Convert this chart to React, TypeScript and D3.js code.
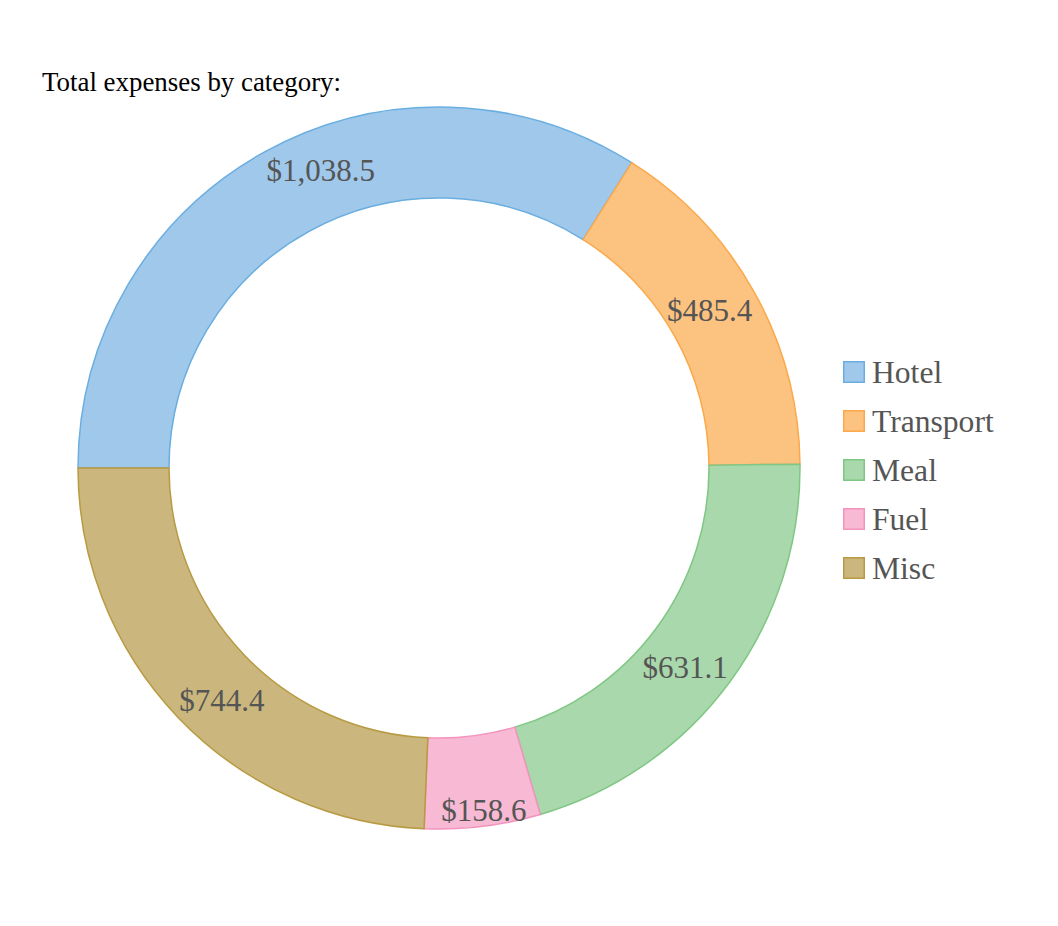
import React from "react";
import * as d3 from "d3";

const categories = ["Hotel", "Transport", "Meal", "Fuel", "Misc"];
const values = [1038.5, 485.4, 631.1, 158.6, 744.4];
const strokeColors = ["#6aaee0", "#fba94a", "#80c785", "#f394bd", "#b89a42"];
const fillColors = ["#a0c8eb", "#fcc27f", "#a8d8ab", "#f7b9d3", "#cbb77d"];
const title = "Total expenses by category:";

// label placement tweaks (style only): angle shift in degrees, radius
const labelAngleShift = [7.2, -1, 2.5, -0.5, -3.1];
const labelRadius = [320, 313, 317, 345, 318];

export default function App() {
  const W = 1058;
  const H = 926;
  const cx = 439;
  const cy = 468;
  const outerR = 361;
  const innerR = 270;

  const pie = d3
    .pie<number>()
    .sort(null)
    .startAngle(-Math.PI / 2)
    .endAngle((3 * Math.PI) / 2)
    .value((d) => d);
  const arcs = pie(values);
  const arc = d3.arc<d3.PieArcDatum<number>>().innerRadius(innerR).outerRadius(outerR);
  const fmt = d3.format("$,.1f");

  const legendX = 843;
  const legendY0 = 361;
  const legendStep = 49;

  return (
    <svg
      width={W}
      height={H}
      style={{ position: "absolute", left: 0, top: 0, fontFamily: "'Liberation Serif', 'Times New Roman', serif" }}
    >
      <text x={42} y={91} fontSize={26.9} fill="#000">
        {title}
      </text>
      <g transform={`translate(${cx},${cy})`}>
        {arcs.map((a, i) => (
          <path
            key={categories[i]}
            d={arc(a) || ""}
            fill={fillColors[i]}
            stroke={strokeColors[i]}
            strokeWidth={1.5}
          />
        ))}
        {arcs.map((a, i) => {
          const mid = (a.startAngle + a.endAngle) / 2 + (labelAngleShift[i] * Math.PI) / 180;
          const r = labelRadius[i];
          const x = r * Math.sin(mid);
          const y = -r * Math.cos(mid);
          return (
            <text
              key={"l" + i}
              x={x}
              y={y}
              textAnchor="middle"
              dominantBaseline="central"
              fontSize={31}
              fill="#555"
            >
              {fmt(values[i])}
            </text>
          );
        })}
      </g>
      <g>
        {categories.map((c, i) => (
          <g key={c} transform={`translate(${legendX},${legendY0 + i * legendStep})`}>
            <rect
              x={0.75}
              y={0.75}
              width={20.5}
              height={20.5}
              fill={fillColors[i]}
              stroke={strokeColors[i]}
              strokeWidth={1.5}
            />
            <text x={29} y={11} dominantBaseline="central" fontSize={31.6} fill="#555">
              {c}
            </text>
          </g>
        ))}
      </g>
    </svg>
  );
}
